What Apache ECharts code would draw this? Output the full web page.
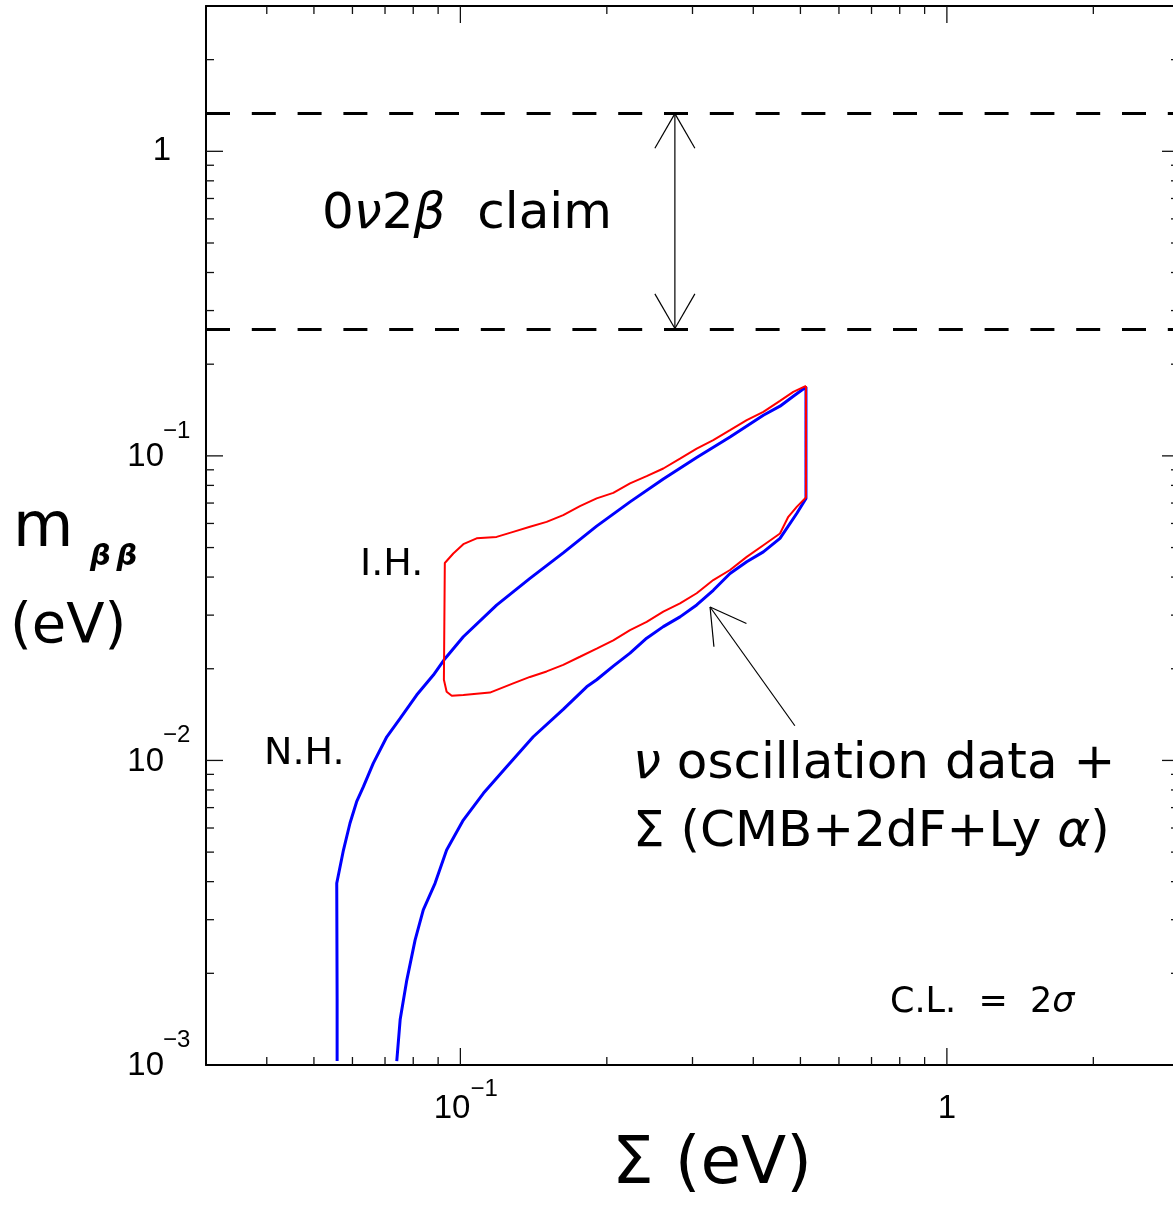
<!DOCTYPE html>
<html><head><meta charset="utf-8">
<script src="https://cdn.jsdelivr.net/npm/echarts@6/dist/echarts.min.js"></script>
<style>
html,body{margin:0;padding:0;overflow:hidden;background:#fff;width:1173px;height:1207px}
#c{width:1190px;height:1207px}
</style>
</head><body><div id="c"></div>
<script>
// ---- axis ranges ----
const X_MIN = 0.03, X_MAX = 3;
const Y_MIN = 0.001, Y_MAX = 3;

// ---- tick values and tick labels ----
const xLabelValues = [0.1, 1];
const xLabelText = [['10', '\u22121'], ['1', '']];
const yLabelValues = [0.001, 0.01, 0.1, 1];
const yLabelText = [['10', '\u22123'], ['10', '\u22122'], ['10', '\u22121'], ['1', '']];
const xMajorTicks = [0.1, 1];
const xMinorTicks = [0.04, 0.05, 0.06, 0.07, 0.08, 0.09, 0.2, 0.3, 0.4, 0.5, 0.6, 0.7, 0.8, 0.9, 2];
const yMajorTicks = [0.01, 0.1, 1];
const yMinorTicks = [0.002, 0.003, 0.004, 0.005, 0.006, 0.007, 0.008, 0.009,
  0.02, 0.03, 0.04, 0.05, 0.06, 0.07, 0.08, 0.09,
  0.2, 0.3, 0.4, 0.5, 0.6, 0.7, 0.8, 0.9, 2];

// ---- normal hierarchy band (blue): upper edge, right edge, lower edge ----
const nhSigma = [0.0558, 0.0558, 0.0557, 0.0575, 0.0593, 0.0612, 0.0632, 0.0662, 0.0706, 0.0752,
  0.0813, 0.0880, 0.0925, 0.1014, 0.1187, 0.1390, 0.1627, 0.1906, 0.2232, 0.2613,
  0.3060, 0.3583, 0.4195, 0.4539, 0.4834, 0.5133,
  0.5133, 0.4913, 0.4539, 0.4195, 0.3878, 0.3583, 0.3310, 0.3060, 0.2828, 0.2613,
  0.2415, 0.2232, 0.2062, 0.1906, 0.1818, 0.1627, 0.1412, 0.1245, 0.1115, 0.1014,
  0.0937, 0.0887, 0.0839, 0.0807, 0.0776, 0.0752, 0.0740];
const nhMbb = [0.00103, 0.00164, 0.00395, 0.00508, 0.00622, 0.00732, 0.00820, 0.00978, 0.01196, 0.01374,
  0.01639, 0.01907, 0.02136, 0.02547, 0.03236, 0.03959, 0.04805, 0.05878, 0.07063, 0.0840,
  0.0988, 0.1154, 0.1360, 0.1456, 0.1570, 0.1684,
  0.0725, 0.0647, 0.0536, 0.0484, 0.0449, 0.0411, 0.0362, 0.0324, 0.0296, 0.0275,
  0.0252, 0.0225, 0.0204, 0.0184, 0.01745, 0.01471, 0.01196, 0.00954, 0.00780, 0.00637,
  0.00508, 0.00395, 0.00323, 0.00257, 0.00190, 0.00141, 0.00103];

// ---- inverted hierarchy region (red), closed contour ----
const ihSigma = [0.5133, 0.4834, 0.4539, 0.4195, 0.3878, 0.3583, 0.3310, 0.3060, 0.2828, 0.2613,
  0.2415, 0.2232, 0.2062, 0.1906, 0.1761, 0.1627, 0.1504, 0.1390, 0.1284, 0.1187,
  0.1080, 0.1014, 0.0967, 0.0929, 0.0925, 0.0937, 0.0960, 0.1014, 0.1150, 0.1284,
  0.1390, 0.1504, 0.1627, 0.1761, 0.1906, 0.2062, 0.2232, 0.2415, 0.2613, 0.2828,
  0.3060, 0.3310, 0.3583, 0.3878, 0.4195, 0.4539, 0.4721, 0.4913, 0.5133, 0.5133];
const ihMbb = [0.1697, 0.1622, 0.1515, 0.1395, 0.1310, 0.1214, 0.1126, 0.1057, 0.0980, 0.0909,
  0.0858, 0.0812, 0.0756, 0.0725, 0.0684, 0.0639, 0.0607, 0.0585, 0.0563, 0.0542,
  0.0536, 0.0513, 0.0478, 0.0445, 0.0184, 0.0168, 0.0163, 0.0164, 0.0167, 0.0179,
  0.0188, 0.0196, 0.0206, 0.0219, 0.0233, 0.0248, 0.0268, 0.0285, 0.0308, 0.0328,
  0.0354, 0.0391, 0.0422, 0.0466, 0.0509, 0.0556, 0.0631, 0.0680, 0.0730, 0.1697];

// ---- 0nu2beta claim bounds and annotation arrows ----
const claimBounds = [0.262, 1.33];
const claimArrowSigma = 0.276;
const noteArrowFrom = [0.487, 0.0130];
const noteArrowTo = [0.326, 0.0319];

const zip = (a, b) => a.map((v, i) => [v, b[i]]);

const LBL = 'Liberation Sans';
const TXT = 'DejaVu Sans';

const TICK_STYLE = { stroke: '#111', lineWidth: 1.3 };
function xTickSeries(values, len) {
  return {
    type: 'custom', silent: true, z: 5, clip: false,
    data: values.map(v => [v, Y_MIN]),
    renderItem: function (params, api) {
      const v = api.value(0);
      const b = api.coord([v, Y_MIN]);
      const t = api.coord([v, Y_MAX]);
      return { type: 'group', children: [
        { type: 'line', shape: { x1: b[0], y1: b[1], x2: b[0], y2: b[1] - len }, style: TICK_STYLE },
        { type: 'line', shape: { x1: t[0], y1: t[1], x2: t[0], y2: t[1] + len }, style: TICK_STYLE }
      ] };
    }
  };
}
function yTickSeries(values, len) {
  return {
    type: 'custom', silent: true, z: 5, clip: false,
    data: values.map(v => [X_MIN, v]),
    renderItem: function (params, api) {
      const v = api.value(1);
      const l = api.coord([X_MIN, v]);
      const r = api.coord([X_MAX, v]);
      return { type: 'group', children: [
        { type: 'line', shape: { x1: l[0], y1: l[1], x2: l[0] + len, y2: l[1] }, style: TICK_STYLE },
        { type: 'line', shape: { x1: r[0], y1: r[1], x2: r[0] - len, y2: r[1] }, style: TICK_STYLE }
      ] };
    }
  };
}

function lblText(x, y, text, size, align) {
  return { type: 'text', x: x, y: y, style: {
    text: text, fontSize: size, fontFamily: LBL, fill: '#000',
    align: align, verticalAlign: 'middle', textAlign: align, textVerticalAlign: 'middle' } };
}
const xLabelSeries = {
  type: 'custom', silent: true, z: 7, clip: false,
  data: xLabelValues.map((v, i) => [v, Y_MIN, i]),
  renderItem: function (params, api) {
    const p = api.coord([api.value(0), Y_MIN]);
    const t = xLabelText[params.dataIndex];
    if (!t[1]) return lblText(p[0], p[1] + 44, t[0], 33, 'center');
    return { type: 'group', children: [
      lblText(p[0] + 10, p[1] + 44, t[0], 33, 'right'),
      lblText(p[0] + 10, p[1] + 24, t[1], 24, 'left')
    ] };
  }
};
const yLabelSeries = {
  type: 'custom', silent: true, z: 7, clip: false,
  data: yLabelValues.map((v, i) => [X_MIN, v, i]),
  renderItem: function (params, api) {
    const p = api.coord([X_MIN, api.value(1)]);
    const t = yLabelText[params.dataIndex];
    if (!t[1]) return lblText(p[0] - 35, p[1], t[0], 33, 'right');
    return { type: 'group', children: [
      lblText(p[0] - 42, p[1] + 1, t[0], 33, 'right'),
      lblText(p[0] - 43, p[1] - 25, t[1], 24, 'left')
    ] };
  }
};

function arrowHead(tip, from, style) {
  const dx = from[0] - tip[0], dy = from[1] - tip[1];
  const L = Math.hypot(dx, dy) || 1;
  const ux = dx / L, uy = dy / L;
  const a = 30 * Math.PI / 180, len = 40;
  const out = [];
  [a, -a].forEach(t => {
    const rx = ux * Math.cos(t) - uy * Math.sin(t);
    const ry = ux * Math.sin(t) + uy * Math.cos(t);
    out.push({ type: 'line', shape: { x1: tip[0], y1: tip[1], x2: tip[0] + rx * len, y2: tip[1] + ry * len }, style: style });
  });
  return out;
}
const ARROW_STYLE = { stroke: '#000', lineWidth: 1.2 };
const arrowSeries = {
  type: 'custom', silent: true, z: 6, clip: false,
  data: [
    [claimArrowSigma, claimBounds[0], claimArrowSigma, claimBounds[1], 2],
    [noteArrowFrom[0], noteArrowFrom[1], noteArrowTo[0], noteArrowTo[1], 1]
  ],
  renderItem: function (params, api) {
    const p1 = api.coord([api.value(0), api.value(1)]);
    const p2 = api.coord([api.value(2), api.value(3)]);
    const children = [{ type: 'line', shape: { x1: p1[0], y1: p1[1], x2: p2[0], y2: p2[1] }, style: ARROW_STYLE }];
    arrowHead(p2, p1, ARROW_STYLE).forEach(c => children.push(c));
    if (api.value(4) === 2) arrowHead(p1, p2, ARROW_STYLE).forEach(c => children.push(c));
    return { type: 'group', children: children };
  }
};

const AXIS_LINE = { show: true, onZero: false, lineStyle: { color: '#000', width: 2 } };

function txt(x, y, text, size, rich, extraStyle) {
  return {
    type: 'text', x: x, y: y, silent: true, z: 100,
    style: Object.assign({
      text: text, fontSize: size, fontFamily: TXT, fill: '#000',
      align: 'left', verticalAlign: 'middle', textAlign: 'left', textVerticalAlign: 'middle',
      rich: rich || {}
    }, extraStyle || {})
  };
}
const gk = (size) => ({ g: { fontSize: size, fontFamily: TXT, fontStyle: 'italic', fill: '#000' } });

function logAxis(min, max, pos) {
  return {
    type: 'log', logBase: 10, min: min, max: max, position: pos,
    axisLine: AXIS_LINE, axisTick: { show: false }, minorTick: { show: false },
    splitLine: { show: false }, axisLabel: { show: false }
  };
}

const option = {
  animation: false,
  backgroundColor: '#fff',
  grid: { left: 206, right: 11, top: 6, bottom: 142, containLabel: false, outerBoundsMode: 'none' },
  xAxis: [logAxis(X_MIN, X_MAX, 'bottom'), logAxis(X_MIN, X_MAX, 'top')],
  yAxis: [logAxis(Y_MIN, Y_MAX, 'left'), logAxis(Y_MIN, Y_MAX, 'right')],
  series: [
    xTickSeries(xMinorTicks, 8),
    xTickSeries(xMajorTicks, 17),
    yTickSeries(yMinorTicks, 8),
    yTickSeries(yMajorTicks, 17),
    xLabelSeries,
    yLabelSeries,
    {
      name: 'N.H.', type: 'line', data: zip(nhSigma, nhMbb), showSymbol: false, symbol: 'none',
      lineStyle: { color: '#0000ff', width: 3 }, emphasis: { disabled: true }, z: 3,
      markLine: {
        silent: true, symbol: ['none', 'none'], label: { show: false }, animation: false,
        lineStyle: { color: '#000', width: 3, type: [24, 21.8] },
        emphasis: { disabled: true },
        data: claimBounds.map(v => ({ yAxis: v }))
      }
    },
    {
      name: 'I.H.', type: 'line', data: zip(ihSigma, ihMbb), showSymbol: false, symbol: 'none',
      lineStyle: { color: '#ff0000', width: 2 }, emphasis: { disabled: true }, z: 4
    },
    arrowSeries
  ],
  graphic: [
    txt(322, 215, '0{g|\u03bd}2{g|\u03b2}  claim', 50, gk(50)),
    txt(360, 565, 'I.H.', 38),
    txt(264, 754, 'N.H.', 38),
    txt(633, 765, '{g|\u03bd} oscillation data +', 50, gk(50)),
    txt(633, 833, '\u03a3 (CMB+2dF+Ly {g|\u03b1})', 50, gk(50)),
    txt(890, 1003, 'C.L.  =  2{g|\u03c3}', 35, gk(35)),
    txt(13, 530, 'm', 62),
    txt(90, 557, '\u03b2\u2009\u03b2', 29, null, { fontStyle: 'italic', fontWeight: 'bold' }),
    txt(10, 627, '(eV)', 56),
    txt(612, 1166, '\u03a3 (eV)', 66)
  ]
};

const chart = echarts.init(document.getElementById('c'), null, { renderer: 'canvas' });
chart.setOption(option);
</script>
</body></html>
